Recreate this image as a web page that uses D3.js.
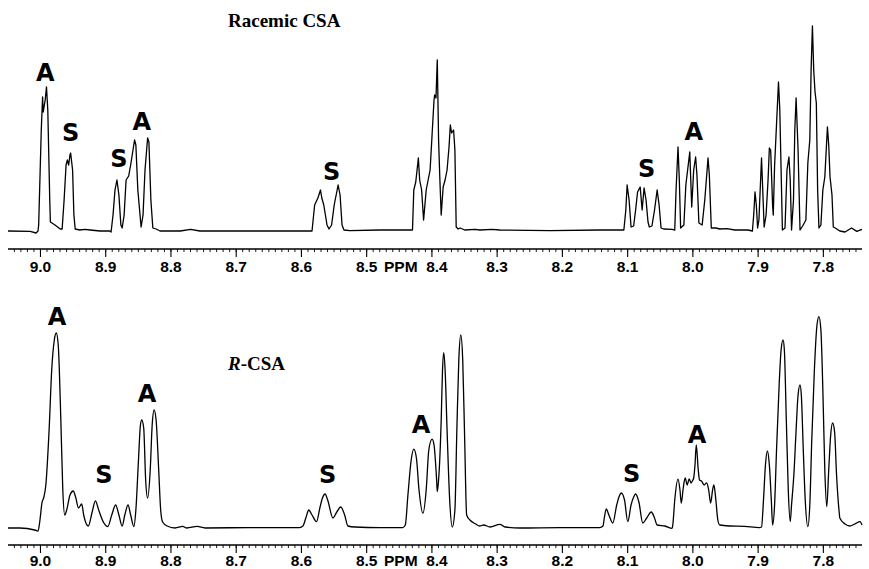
<!DOCTYPE html>
<html>
<head>
<meta charset="utf-8">
<script src="https://cdn.jsdelivr.net/npm/d3@7/dist/d3.min.js"></script>
<style>
  html, body { margin: 0; padding: 0; background: #fff; }
  svg { display: block; }
</style>
</head>
<body>
<svg id="chart" width="869" height="569"></svg>
<script>
// ---- DATA (chemical shift in ppm, relative intensity) ----
const racemicPpm = [9.049,9.015,9.006,9.003,9.002,8.998,8.996,8.995,8.992,8.990,8.988,8.985,8.984,8.977,8.969,8.966,8.963,8.960,8.958,8.956,8.954,8.953,8.950,8.948,8.946,8.939,8.931,8.923,8.908,8.893,8.891,8.888,8.885,8.882,8.879,8.876,8.874,8.871,8.868,8.864,8.861,8.855,8.853,8.850,8.845,8.842,8.839,8.835,8.833,8.830,8.827,8.822,8.816,8.785,8.769,8.755,8.678,8.602,8.583,8.579,8.574,8.570,8.568,8.565,8.560,8.557,8.553,8.549,8.546,8.543,8.540,8.537,8.534,8.525,8.479,8.433,8.429,8.427,8.424,8.420,8.418,8.415,8.412,8.408,8.405,8.402,8.399,8.396,8.395,8.393,8.391,8.389,8.387,8.385,8.382,8.379,8.376,8.373,8.371,8.369,8.366,8.364,8.362,8.359,8.356,8.349,8.333,8.326,8.307,8.295,8.218,8.142,8.111,8.105,8.102,8.100,8.097,8.094,8.090,8.087,8.084,8.080,8.077,8.074,8.071,8.068,8.066,8.062,8.058,8.054,8.051,8.048,8.044,8.031,8.027,8.025,8.022,8.020,8.018,8.013,8.010,8.004,8.001,7.998,7.995,7.993,7.990,7.985,7.981,7.976,7.974,7.971,7.964,7.958,7.947,7.935,7.915,7.908,7.906,7.904,7.902,7.900,7.898,7.894,7.893,7.890,7.887,7.884,7.882,7.880,7.877,7.876,7.874,7.870,7.868,7.866,7.864,7.862,7.858,7.855,7.852,7.850,7.848,7.845,7.843,7.841,7.838,7.835,7.831,7.826,7.823,7.820,7.818,7.816,7.814,7.812,7.810,7.808,7.806,7.803,7.800,7.797,7.793,7.791,7.789,7.786,7.784,7.781,7.774,7.766,7.756,7.748,7.740];
const racemicInt = [0,-0.2,-1,0,3,50.5,67,59.5,65.5,72,60.5,15.5,4.5,3,1,1,15.5,33,35.5,33,38,39,30.5,8,1,0.5,0.8,0.5,0,0,-0.5,8,20.5,25.5,18,3,1.5,8,25.5,27.5,33,45.5,43,20.5,2,8,30.5,46.5,44.5,15.5,1.5,1,0,0,0.8,0,0,0,0,13,16.5,20.5,16.5,13,3,1,3,13,18,23,18,3,0.5,0.2,0.5,0.5,0.5,20.5,24.5,36.5,25.5,20.5,5.5,20.5,25.5,30.5,48,65.5,68,66.5,85.5,45.5,25.5,8,22,25.5,30.5,42,53,49,50.5,40.5,2,1,1.5,0.5,0.8,0.5,0.8,0.5,0.2,0.5,0.5,0.5,10.5,23,15.5,2,2.5,10.5,19.5,22,10.5,21.5,15.5,4.5,2,2.5,10.5,20.5,13,1.5,1,0.8,0.5,20.5,42,25.5,1.5,3,23,39.5,12,30.5,37,28,4,3,15.5,36.5,28,1.5,1.5,1,1.2,0.5,0.5,0,8,19.5,13,1.5,5.5,36.5,28,2,8,25.5,41.5,40.5,12.5,8,32.5,60.5,74.5,60.5,30.5,0.5,1.5,30.5,37,25.5,0.5,15.5,50.5,66.5,40.5,0.5,2.5,5.5,34,45.5,80.5,102.5,80.5,69.5,64,20.5,1.5,3,20.5,27,52,43,27,18,2,1.5,0,-0.5,1.5,-0.2,0.8];

const rcsaPpm = [9.049,9.031,9.008,9.003,9.000,8.997,8.994,8.991,8.986,8.982,8.978,8.975,8.972,8.968,8.965,8.962,8.959,8.954,8.949,8.945,8.941,8.936,8.933,8.926,8.920,8.915,8.910,8.902,8.896,8.890,8.884,8.879,8.874,8.870,8.865,8.861,8.856,8.853,8.849,8.846,8.844,8.841,8.838,8.835,8.831,8.828,8.825,8.822,8.818,8.815,8.812,8.805,8.793,8.781,8.775,8.759,8.747,8.678,8.617,8.602,8.597,8.592,8.588,8.583,8.576,8.571,8.567,8.563,8.559,8.551,8.545,8.539,8.533,8.528,8.517,8.479,8.444,8.440,8.436,8.431,8.427,8.423,8.419,8.413,8.408,8.404,8.399,8.396,8.392,8.391,8.389,8.385,8.383,8.381,8.379,8.376,8.372,8.368,8.364,8.361,8.358,8.355,8.352,8.349,8.346,8.341,8.332,8.326,8.320,8.310,8.295,8.287,8.264,8.203,8.142,8.137,8.135,8.132,8.128,8.122,8.116,8.112,8.109,8.104,8.099,8.094,8.090,8.087,8.082,8.076,8.070,8.063,8.058,8.054,8.042,8.031,8.030,8.027,8.022,8.019,8.017,8.014,8.011,8.008,8.005,8.002,8.000,7.998,7.996,7.994,7.991,7.989,7.986,7.982,7.978,7.975,7.972,7.969,7.967,7.964,7.961,7.958,7.943,7.920,7.897,7.894,7.891,7.888,7.885,7.882,7.879,7.877,7.874,7.871,7.867,7.864,7.861,7.859,7.856,7.853,7.850,7.848,7.844,7.841,7.838,7.835,7.833,7.830,7.827,7.823,7.820,7.817,7.813,7.809,7.806,7.803,7.800,7.797,7.794,7.791,7.788,7.785,7.782,7.779,7.775,7.774,7.766,7.759,7.751,7.743,7.740];
const rcsaInt = [0,0,-1,-1.5,4,12.5,15.5,21.5,49,79,94,97.5,91.5,54,19,6.5,9,16.5,18.5,15,10,12,6.5,1,8,13.6,9,2.5,0.7,6.5,11.5,6.5,1,6.5,11.5,6.5,0.7,9,34,51.5,54,50,24,15,29,51.5,59,54,29,9,3,1,0,0.8,0,0.8,0,0.2,0.2,0.2,1,5.5,9,6.5,3.2,10,15,17,14,5,8,10.5,6.5,1,0.5,0.2,0.2,1.5,16.5,34,39.4,35,19,7.4,19,39,44.4,41.5,24,18.2,24,54,79,87.7,79,49,14,0.5,9,49,84,96.5,84,44,6.5,4,2,1,1.5,0.5,1.8,0.5,0,0.2,0.2,1,5,9.5,6.5,2.5,11.5,16,17.5,14,3.2,11.5,15.5,17,13,2.5,5,8,5,1.5,1,-0.2,1.5,14,24.4,19,12.4,20,25,21.5,24.5,22.5,23.5,25,31.5,41.5,29,24,23.5,21.5,22.6,19,12.5,19,21.5,14,4,1.5,1,0.8,0.2,0.5,14,31.5,38.5,31.5,14,1.5,11.5,39,71.5,89,94,89,54,19,3.2,11.5,29,49,66.5,71.5,66.5,39,14,0.7,11.5,44,79,101.5,105.7,99,69,29,10.7,29,46.5,52.5,48,26.5,8,5,2,1,2,3.2,1.5];

const majorTicks = [9.0,8.9,8.8,8.7,8.6,8.5,8.4,8.3,8.2,8.1,8.0,7.9,7.8];
const tickLabels = ["9.0","8.9","8.8","8.7","8.6","8.5","8.4","8.3","8.2","8.1","8.0","7.9","7.8"];
const axisUnit = "PPM";

const racemicTitle = "Racemic CSA";
const racemicLabelText = ["A","S","S","A","S","S","A"];
const racemicLabelPpm  = [8.992,8.953,8.879,8.844,8.553,8.070,7.998];
const racemicLabelInt  = [75,45,32,50.5,25.5,27,45.5];

const rcsaTitle = "CSA";
const rcsaLabelText = ["A","S","A","S","A","S","A"];
const rcsaLabelPpm  = [8.974,8.902,8.836,8.559,8.416,8.093,7.993];
const rcsaLabelInt  = [101.5,22.5,63,22.5,47.5,23,42.5];

// ---- DRAWING ----
const svg = d3.select("#chart");
const x = d3.scaleLinear().domain([9.049, 7.740]).range([8, 862]);

const panels = [
  { ppm: racemicPpm, inten: racemicInt, base: 231, axisY: 249, pad: 4,
    labels: racemicLabelText, lp: racemicLabelPpm, li: racemicLabelInt },
  { ppm: rcsaPpm, inten: rcsaInt, base: 528, axisY: 545, pad: 2,
    labels: rcsaLabelText, lp: rcsaLabelPpm, li: rcsaLabelInt }
];

const minorTicks = d3.range(904, 774, -1).map(v => v / 100);

panels.forEach((p, pi) => {
  const y = d3.scaleLinear().domain([0, 100]).range([p.base, p.base - 200]);
  const pts = p.ppm.map((v, i) => [v, p.inten[i]]);
  const line = d3.line()
    .x(d => x(d[0]))
    .y(d => y(d[1]))
    .curve(pi === 0 ? d3.curveLinear : d3.curveMonotoneX);

  svg.append("path")
    .datum(pts)
    .attr("d", line)
    .attr("fill", "none")
    .attr("stroke", "#000")
    .attr("stroke-width", 1.3)
    .attr("stroke-linejoin", "round");

  // minor ticks ruler
  const minorAxis = d3.axisBottom(x).tickValues(minorTicks).tickSize(3).tickFormat("");
  const gMinor = svg.append("g").attr("transform", `translate(0,${p.axisY})`).call(minorAxis);
  gMinor.select(".domain").attr("stroke-width", 1.6).attr("d", `M8,0H862`);
  gMinor.selectAll(".tick line").attr("stroke-width", 0.9);

  // major ticks + labels
  const majorAxis = d3.axisBottom(x).tickValues(majorTicks).tickSize(8).tickPadding(p.pad)
    .tickFormat((d, i) => tickLabels[i]);
  const gMajor = svg.append("g").attr("transform", `translate(0,${p.axisY})`).call(majorAxis);
  gMajor.select(".domain").remove();
  gMajor.selectAll(".tick line").attr("stroke-width", 1.1);
  gMajor.selectAll(".tick text")
    .attr("font-family", "Liberation Sans, Arial, sans-serif")
    .attr("font-weight", "bold")
    .attr("font-size", 15.5)
    .attr("fill", "#000")
    .attr("dx", (d, i) => tickLabels[i] === "8.4" ? 5 : 0);

  svg.append("text")
    .attr("x", (x(8.5) + x(8.4)) / 2 + 2)
    .attr("y", p.axisY + 8 + p.pad)
    .attr("dy", "0.71em")
    .attr("text-anchor", "middle")
    .attr("font-family", "Liberation Sans, Arial, sans-serif")
    .attr("font-weight", "bold")
    .attr("font-size", 15.5)
    .text(axisUnit);

  // peak labels
  svg.append("g").selectAll("text")
    .data(p.labels)
    .join("text")
    .attr("x", (d, i) => x(p.lp[i]))
    .attr("y", (d, i) => y(p.li[i]))
    .attr("text-anchor", "middle")
    .attr("font-family", "DejaVu Sans, sans-serif")
    .attr("font-weight", "bold")
    .attr("font-size", 24)
    .text(d => d);
});

// titles
svg.append("text")
  .attr("x", 228).attr("y", 27)
  .attr("font-family", "Liberation Serif, Times New Roman, serif")
  .attr("font-weight", "bold")
  .attr("font-size", 19)
  .text(racemicTitle);

const t2 = svg.append("text")
  .attr("x", 228).attr("y", 370)
  .attr("font-family", "Liberation Serif, Times New Roman, serif")
  .attr("font-weight", "bold")
  .attr("font-size", 19);
t2.append("tspan").attr("font-style", "italic").text("R");
t2.append("tspan").text("-" + rcsaTitle);
</script>
</body>
</html>
